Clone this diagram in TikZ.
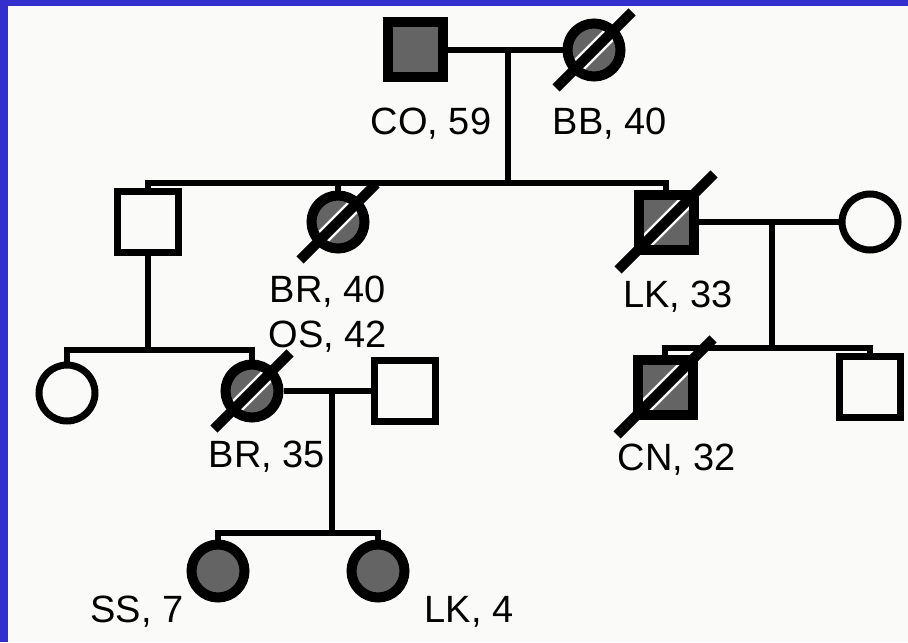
\documentclass[tikz,border=0pt]{standalone}
\usepackage{fontspec}
\setmainfont{Liberation Sans}
\usetikzlibrary{positioning,calc}

\definecolor{slideblue}{RGB}{51,46,204}
\definecolor{paper}{RGB}{250,250,248}
\definecolor{stipple}{RGB}{100,100,100}

% black slash over a deceased individual
\newcommand{\deadmark}[2]{%
    \draw[slashline] ([shift={(-#2,-#2)}]#1.center) -- ([shift={(#2,#2)}]#1.center);}

\begin{document}
\begin{tikzpicture}[
    font=\fontsize{19}{22}\selectfont,
    x=0.5pt, y=-0.5pt,
    line/.style={line width=3.3pt},
    male/.style={rectangle, draw, line width=3.5pt, minimum size=30.5pt, inner sep=0pt, fill=paper},
    female/.style={circle, draw, line width=3.5pt, minimum size=28pt, inner sep=0pt, fill=paper},
    maleaff/.style={male, fill=stipple, line width=5pt, minimum size=27.5pt},
    femaleaff/.style={female, fill=stipple, line width=5pt, minimum size=26.5pt},
    dead/.style={path picture={\draw[paper, line width=7.5pt] (path picture bounding box.south west) -- (path picture bounding box.north east);}},
    slashline/.style={draw=black, line width=5pt}
]
    \useasboundingbox (0,0) rectangle (908,642);
    \fill[slideblue] (0,0) rectangle (908,642);
    \fill[paper] (8,6) rectangle (908,642);

    % Generation I
    \node[maleaff] (co) at (415,50) {};
    \node[femaleaff, dead] (bb) at (594,50) {};
    \deadmark{bb}{19pt}
    \draw[line] (co) -- (bb);
    \coordinate (m1) at (508,50);
    \coordinate (s1) at (508,183);
    \draw[line] (m1) -- (s1);
    \node (tco) at (431,124) {CO, 59};
    \node (tbb) at (610,124) {BB, 40};

    % Generation II
    \node[male] (u1) at (148,222) {};
    \node[femaleaff, dead] (br40) at (338,222) {};
    \node[maleaff, dead] (lk33) at (666,222) {};
    \node[female] (w1) at (870,222) {};
    \deadmark{br40}{19pt}
    \deadmark{lk33}{24pt}
    \draw[line] (u1.north) -- (u1 |- s1) -- (lk33 |- s1) -- (lk33.north);
    \draw[line] (br40.north) -- (br40 |- s1);
    \draw[line] (lk33) -- (w1);
    \coordinate (m2) at (772,222);
    \coordinate (s2) at (772,348);
    \draw[line] (m2) -- (s2);
    \node (tbr40) at (328,292) {BR, 40};
    \node (tos42) at (328,337) {OS, 42};
    \node (tlk33) at (678,297) {LK, 33};

    % Generation III
    \node[female] (lw) at (67,393) {};
    \node[femaleaff, dead] (br35) at (252,391) {};
    \node[male] (os42) at (405,391) {};
    \node[maleaff, dead] (cn) at (665,387) {};
    \node[male] (r1) at (870,387) {};
    \deadmark{br35}{19pt}
    \deadmark{cn}{24pt}
    \coordinate (s3) at (148,350);
    \draw[line] (u1) -- (s3);
    \draw[line] (lw.north) -- (lw |- s3) -- (br35 |- s3) -- (br35.north);
    \draw[line] (br35) -- (os42);
    \draw[line] (cn.north) -- (cn |- s2) -- (r1 |- s2) -- (r1.north);
    \coordinate (m4) at (332,391);
    \coordinate (s4) at (332,533);
    \draw[line] (m4) -- (s4);
    \node (tbr35) at (267,457) {BR, 35};
    \node (tcn) at (677,460) {CN, 32};

    % Generation IV
    \node[femaleaff] (ss) at (218,571) {};
    \node[femaleaff] (lk4) at (378,571) {};
    \draw[line] (ss.north) -- (ss |- s4) -- (lk4 |- s4) -- (lk4.north);
    \node (tss) at (137,612) {SS, 7};
    \node (tlk4) at (469,612) {LK, 4};
\end{tikzpicture}
\end{document}
